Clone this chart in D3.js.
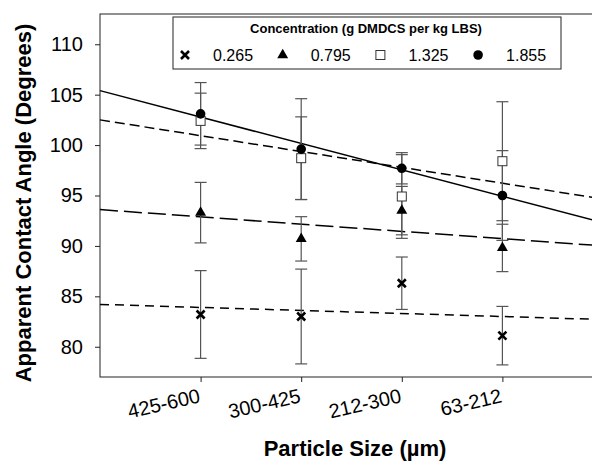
<!DOCTYPE html>
<meta charset="utf-8">
<script src="https://cdn.jsdelivr.net/npm/d3@7"></script>
<style>
body { margin: 0; background: #fff; }
text { font-family: "Liberation Sans", Arial, sans-serif; fill: #000; }
.axis path, .axis line { stroke: #222; stroke-width: 1px; }
.axis text { font-size: 20px; }
</style>
<body>
<script>

// particle size classes (x axis)
var categories = ["425-600", "300-425", "212-300", "63-212"];

// concentrations (g DMDCS per kg LBS)
var concentrations = ["0.265", "0.795", "1.325", "1.855"];

// mean apparent contact angle per size class
var angle0265 = [83.2, 83.0, 86.3, 81.1];
var angle0795 = [93.3, 90.7, 93.5, 89.8];
var angle1325 = [102.4, 98.7, 94.9, 98.4];
var angle1855 = [103.1, 99.6, 97.7, 95.0];

// error bar half widths
var err0265 = [4.35, 4.7, 2.6, 2.9];
var err0795 = [3.0, 2.2, 2.4, 2.35];
var err1325 = [2.75, 4.1, 4.15, 5.9];
var err1855 = [3.1, 5.0, 1.55, 4.45];

// fitted trend lines: value at the left edge and at the right edge
var trendStart = [84.2, 93.6, 102.5, 105.4];
var trendEnd = [82.7, 90.0, 94.65, 92.3];

var yTicks = [80, 85, 90, 95, 100, 105, 110];

var width = 592, height = 461;

var svg = d3.select("body").append("svg")
    .attr("width", width)
    .attr("height", height);

var x = d3.scaleLinear().domain([-1, 4]).range([100, 603]);
var y = d3.scaleLinear().domain([77, 113]).range([377, 14]);

var series = concentrations.map(function(c, i) {
  return {
    name: c,
    values: [angle0265, angle0795, angle1325, angle1855][i],
    errs: [err0265, err0795, err1325, err1855][i],
    t0: trendStart[i],
    t1: trendEnd[i]
  };
});

var dashes = ["9,6", "18,6", "10,5", null];

// frame
svg.append("rect")
    .attr("x", x(-1)).attr("y", y(113))
    .attr("width", x(4) - x(-1)).attr("height", y(77) - y(113))
    .attr("fill", "none").attr("stroke", "#222");

// axes
var yAxis = svg.append("g")
    .attr("class", "axis")
    .attr("transform", "translate(" + x(-1) + ",0)")
    .call(d3.axisLeft(y).tickValues(yTicks).tickSize(5).tickPadding(12));
yAxis.select(".domain").remove();

var xAxis = svg.append("g")
    .attr("class", "axis")
    .attr("transform", "translate(0," + y(77) + ")")
    .call(d3.axisBottom(x).tickValues([0, 1, 2, 3]).tickSize(5)
      .tickFormat(function(d) { return categories[d]; }));
xAxis.select(".domain").remove();
xAxis.selectAll("text")
    .attr("x", 0).attr("y", 0).attr("dy", 0)
    .style("text-anchor", "end")
    .attr("transform", "translate(0,25) rotate(-13)");

// trend lines
svg.append("g").selectAll("line")
    .data(series)
    .enter().append("line")
    .attr("x1", x(-1)).attr("x2", x(4))
    .attr("y1", function(d) { return y(d.t0); })
    .attr("y2", function(d) { return y(d.t1); })
    .attr("stroke", "#000")
    .attr("stroke-width", 1.5)
    .attr("stroke-dasharray", function(d, i) { return dashes[i]; });

// error bars
var points = [];
series.forEach(function(s, si) {
  s.values.forEach(function(v, ci) {
    points.push({ s: si, c: ci, v: v, e: s.errs[ci] });
  });
});

var eb = svg.append("g").selectAll("g")
    .data(points)
    .enter().append("g")
    .attr("stroke", "#555")
    .attr("stroke-width", 1.2);
eb.append("line")
    .attr("x1", function(d) { return x(d.c); })
    .attr("x2", function(d) { return x(d.c); })
    .attr("y1", function(d) { return y(d.v + d.e); })
    .attr("y2", function(d) { return y(d.v - d.e); });
eb.append("line")
    .attr("x1", function(d) { return x(d.c) - 6; })
    .attr("x2", function(d) { return x(d.c) + 6; })
    .attr("y1", function(d) { return y(d.v + d.e); })
    .attr("y2", function(d) { return y(d.v + d.e); });
eb.append("line")
    .attr("x1", function(d) { return x(d.c) - 6; })
    .attr("x2", function(d) { return x(d.c) + 6; })
    .attr("y1", function(d) { return y(d.v - d.e); })
    .attr("y2", function(d) { return y(d.v - d.e); });

// markers
function drawMarker(g, type) {
  if (type == 0) {
    g.append("path").attr("d", "M-4,-4L4,4M-4,4L4,-4")
      .attr("stroke", "#000").attr("stroke-width", 2.6);
  } else if (type == 1) {
    g.append("path").attr("d", d3.symbol().type(d3.symbolTriangle).size(52))
      .attr("fill", "#000");
  } else if (type == 2) {
    g.append("rect").attr("x", -4.5).attr("y", -4.5).attr("width", 9).attr("height", 9)
      .attr("fill", "#fff").attr("stroke", "#333").attr("stroke-width", 1);
  } else {
    g.append("circle").attr("r", 4.8).attr("fill", "#000");
  }
}

svg.append("g").selectAll("g")
    .data(points)
    .enter().append("g")
    .attr("transform", function(d) { return "translate(" + x(d.c) + "," + y(d.v) + ")"; })
    .each(function(d) { drawMarker(d3.select(this), d.s); });

// legend
var legend = svg.append("g");
legend.append("rect")
    .attr("x", 173).attr("y", 17).attr("width", 388).attr("height", 52)
    .attr("fill", "#fff").attr("stroke", "#222");
legend.append("text")
    .attr("x", 366).attr("y", 33)
    .attr("text-anchor", "middle")
    .style("font-size", "13px").style("font-weight", 700)
    .text("Concentration (g DMDCS per kg LBS)");
var items = legend.selectAll(".item")
    .data(series)
    .enter().append("g")
    .attr("transform", function(d, i) { return "translate(" + (185 + i * 97.7) + ",55)"; });
items.each(function(d, i) { drawMarker(d3.select(this), i); });
items.append("text")
    .attr("x", 28).attr("y", 5.5)
    .style("font-size", "16px")
    .text(function(d) { return d.name; });

// axis titles
svg.append("text")
    .attr("transform", "translate(31,203) rotate(-90)")
    .attr("text-anchor", "middle")
    .style("font-size", "22px").style("font-weight", 700)
    .text("Apparent Contact Angle (Degrees)");

svg.append("text")
    .attr("x", 355).attr("y", 456)
    .attr("text-anchor", "middle")
    .style("font-size", "22px").style("font-weight", 700)
    .text("Particle Size (\u00b5m)");

</script>
</body>
